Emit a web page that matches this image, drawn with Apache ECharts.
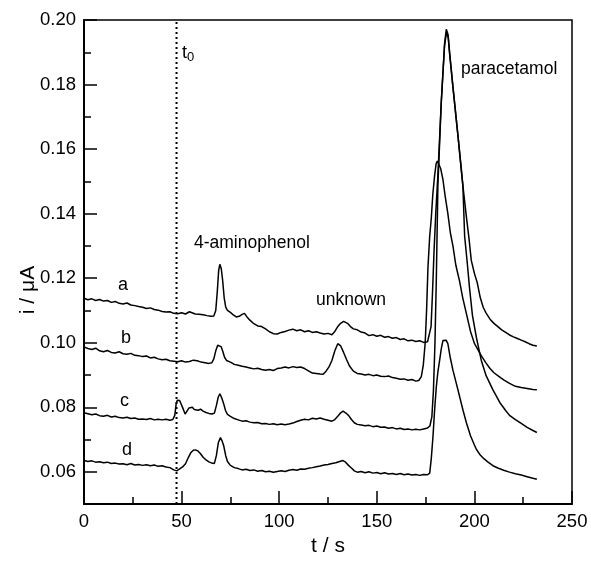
<!DOCTYPE html>
<html><head><meta charset="utf-8">
<script src="https://cdn.jsdelivr.net/npm/echarts@6/dist/echarts.min.js"></script>
<style>html,body{margin:0;padding:0;background:#fff}#c{width:591px;height:562px}</style>
</head><body><div id="c"></div>
<script>
// ---- data (time in s, current in µA) ----
const tA=[0,2,4,6,8,10,12,14,16,18,20,22,24,26,28,30,32,34,36,38,40,42,44,46,48,50,52,54,55,57,59,61,63,65,66.5,67.5,68.3,69,69.6,70.3,71,71.8,72.6,73.5,75,76.5,78,79.5,81,82.2,83.5,85,87,89,91,93,95,97,99,101,103,105,107,109,111,113,115,117,119,121,123,125,127,128.5,130,131.5,133,134,135,136.5,138,140,142,144,146,148,150,152,154,156,158,160,162,164,166,168,170,172,174,176,177,177.8,178.5,179.3,180.2,181.3,183,184.7,185.6,186.5,187.3,189,191.6,194.1,195.9,197.2,198.4,200,201.5,203,204.5,206,208,210,212,214,216,218,220,222,224,226,228,230,232];
const iA=[.1138,.1133,.1136,.1131,.1134,.1129,.1131,.1125,.1128,.1122,.1120,.1123,.1117,.1115,.1112,.1110,.1106,.1108,.1103,.1101,.1097,.1095,.1096,.1091,.1090,.1093,.1089,.1096,.1098,.1089,.1088,.1087,.1084,.1082,.1083,.1100,.1160,.1225,.1243,.1230,.1195,.1140,.1110,.1100,.1094,.1086,.1080,.1082,.1088,.1091,.1080,.1070,.1059,.1052,.1050,.1043,.1034,.1028,.1027,.1032,.1035,.1039,.1042,.1037,.1040,.1034,.1037,.1032,.1034,.1030,.1027,.1029,.1025,.1035,.1050,.1060,.1066,.1068,.1060,.1050,.1043,.1040,.1033,.1030,.1022,.1025,.1020,.1023,.1017,.1019,.1014,.1016,.1010,.1012,.1006,.1008,.1004,.1006,.1001,.1003,.1008,.1050,.1150,.1280,.1400,.1520,.1742,.1925,.1971,.1955,.1900,.1793,.1640,.1487,.1390,.1325,.1255,.1215,.1185,.1140,.1110,.1092,.1073,.1060,.1050,.1040,.1032,.1024,.1018,.1013,.1008,.1003,.0997,.0992,.0990];

const tB=[0,2,4,6,8,10,12,14,16,18,20,22,24,26,28,30,32,34,36,38,40,42,44,46,48,50,52,54,56,58,60,62,64,65.5,66.5,67.5,68.5,69.3,70.2,71,72,73,75,77,79,81,83,85,87,89,91,93,95,97,99,101,103,105,107,109,111,113,115,117,119,121,122.5,124,125.5,127,128.5,130,131.5,133,134.5,136,138,140,142,144,146,148,150,152,154,156,158,160,162,164,166,168,170,171.5,172.8,173.8,174.8,175.5,176.2,177.1,177.9,178.7,179.6,180.4,181,181.8,182.7,183.9,185,186.4,187.7,189,190.5,192.4,194,195.9,198,200,201,203.5,206,208,210,212.5,215,218,221,224,227,230,232];
const iB=[.0987,.0982,.0979,.0983,.0975,.0972,.0976,.0970,.0968,.0972,.0966,.0964,.0967,.0961,.0960,.0957,.0959,.0953,.0955,.0950,.0947,.0949,.0944,.0943,.0941,.0944,.0940,.0942,.0946,.0944,.0940,.0938,.0936,.0938,.0950,.0975,.0992,.0997,.0988,.0975,.0955,.0945,.0940,.0933,.0930,.0927,.0925,.0922,.0919,.0921,.0917,.0915,.0917,.0914,.0920,.0922,.0925,.0922,.0926,.0923,.0925,.0920,.0913,.0906,.0905,.0903,.0902,.0912,.0925,.0945,.0975,.0997,.0990,.0970,.0948,.0928,.0912,.0905,.0903,.0900,.0902,.0898,.0900,.0896,.0895,.0897,.0892,.0890,.0887,.0888,.0884,.0886,.0881,.0883,.0895,.0930,.1000,.1100,.1232,.1330,.1385,.1460,.1517,.1555,.1563,.1553,.1540,.1505,.1455,.1400,.1340,.1300,.1240,.1191,.1140,.1090,.1035,.0998,.0987,.0960,.0937,.0920,.0907,.0896,.0885,.0874,.0865,.0861,.0858,.0855,.0854];

const tC=[0,2,4,6,8,10,12,14,16,18,20,22,24,26,28,30,32,34,36,38,40,42,44,45.5,46.5,47.2,47.8,49,49.8,50.8,51.8,52.8,53.8,54.6,55.5,56.5,57.5,58.5,59.7,61,62.5,64,65.5,66.8,67.8,68.8,69.6,70.5,71.5,72.5,73.5,75,77,79,81,83,85,87,89,91,93,95,97,99,101,103,105,107,109,111,113,115,117,119,121,123,125,127,128.5,130,131.5,132.7,134,135.5,137,138.5,140,142,144,146,148,150,152,154,156,158,160,162,164,166,168,170,172,174,176,177.2,178.2,179,179.8,180.5,181.3,183,184.7,185.7,186.6,187.3,189,191.6,194.1,195,196.3,197.5,199,201,203.5,206,209.5,213,216,218,221,224,227,230,232];
const iC=[.0783,.0780,.0777,.0779,.0774,.0772,.0775,.0770,.0772,.0768,.0767,.0769,.0765,.0767,.0763,.0764,.0762,.0765,.0761,.0763,.0761,.0763,.0760,.0762,.0775,.0810,.0822,.0821,.0815,.0795,.0779,.0785,.0798,.0803,.0800,.0793,.0796,.0791,.0794,.0788,.0784,.0781,.0779,.0782,.0805,.0832,.0842,.0830,.0812,.0790,.0778,.0772,.0765,.0761,.0757,.0758,.0754,.0752,.0753,.0749,.0750,.0747,.0749,.0746,.0748,.0746,.0748,.0751,.0756,.0760,.0763,.0761,.0766,.0764,.0767,.0763,.0760,.0757,.0762,.0772,.0783,.0788,.0783,.0775,.0762,.0752,.0747,.0745,.0743,.0744,.0740,.0742,.0738,.0739,.0735,.0737,.0733,.0735,.0731,.0733,.0730,.0732,.0730,.0733,.0736,.0742,.0770,.0850,.1000,.1200,.1487,.1742,.1920,.1962,.1945,.1895,.1793,.1640,.1487,.1330,.1250,.1170,.1085,.1017,.0946,.0898,.0854,.0815,.0790,.0775,.0762,.0750,.0738,.0728,.0722];

const tD=[0,2,4,6,8,10,12,14,16,18,20,22,24,26,28,30,32,34,36,38,40,42,44,46,47.5,49,50.5,52,53.5,54.8,56,57.2,58.5,59.7,61,62.5,64,65.5,66.8,67.8,68.8,69.9,70.8,71.6,72.6,73.5,75,77,79,81,83,85,87,89,91,93,95,97,99,101,103,105,107,109,111,113,115,117,119,121,123,125,127,129,131,132.7,134,135.5,137,138.5,140,142,144,146,148,150,152,154,156,158,160,162,164,166,168,170,172,174,176,177.1,177.9,178.8,179.6,180.5,181.3,182.2,183,183.9,184.7,185.5,186.4,187.6,189,190.7,192.4,194.2,195.9,198,200,201,203,205,207,209.5,212,215,218,221,224,227,230,231,232];
const iD=[.0635,.0632,.0634,.0630,.0631,.0628,.0630,.0626,.0627,.0624,.0625,.0622,.0626,.0621,.0623,.0620,.0622,.0619,.0621,.0617,.0619,.0615,.0613,.0606,.0603,.0609,.0615,.0625,.0645,.0660,.0667,.0668,.0664,.0656,.0645,.0637,.0631,.0627,.0626,.0650,.0690,.0706,.0695,.0680,.0650,.0632,.0620,.0613,.0610,.0606,.0608,.0604,.0606,.0602,.0604,.0600,.0602,.0599,.0601,.0603,.0601,.0605,.0607,.0605,.0609,.0608,.0611,.0613,.0616,.0618,.0621,.0623,.0626,.0628,.0632,.0635,.0630,.0620,.0612,.0603,.0599,.0601,.0597,.0600,.0596,.0598,.0594,.0597,.0593,.0595,.0592,.0595,.0591,.0593,.0590,.0592,.0589,.0592,.0591,.0596,.0640,.0711,.0790,.0864,.0910,.0946,.0980,.1007,.1012,.1008,.0997,.0955,.0915,.0875,.0834,.0790,.0752,.0712,.0683,.0670,.0652,.0640,.0630,.0619,.0612,.0605,.0599,.0594,.0590,.0585,.0580,.0583,.0577];

const t0 = 47.4;
const xMin = 0, xMax = 250, xStep = 50;
const yMin = 0.05, yMax = 0.20;
const yMajor = [0.06,0.08,0.10,0.12,0.14,0.16,0.18,0.20];
const traceNames = ['a','b','c','d'];

const zip = (t, v) => t.map((x, k) => [x, v[k]]);
const FONT = '"Liberation Sans", Arial, sans-serif';
const lineSeries = (name, t, v) => ({
  name, type: 'line', data: zip(t, v), showSymbol: false, symbol: 'none',
  lineStyle: { color: '#000', width: 1.5 }, animation: false, z: 3
});

const chart = echarts.init(document.getElementById('c'), null, { renderer: 'canvas' });
chart.setOption({
  animation: false,
  backgroundColor: '#fff',
  textStyle: { fontFamily: FONT, color: '#000' },
  grid: { left: 84, right: 19, top: 20, bottom: 53, show: true, borderColor: '#000', borderWidth: 1.5, backgroundColor: 'transparent' },
  xAxis: {
    type: 'value', min: xMin, max: xMax, interval: xStep,
    name: 't / s', nameLocation: 'middle', nameGap: 29,
    nameTextStyle: { fontSize: 21, fontFamily: FONT, color: '#000' },
    axisLine: { lineStyle: { color: '#000', width: 2 } },
    axisTick: { inside: true, length: 13, lineStyle: { color: '#000', width: 1.5 } },
    minorTick: { show: true, splitNumber: 2, length: 7, lineStyle: { color: '#000', width: 1.5 } },
    axisLabel: { fontSize: 18.5, fontFamily: FONT, color: '#000', margin: 8 },
    splitLine: { show: false }
  },
  yAxis: [{
    type: 'value', min: yMin, max: yMax, interval: 0.01, position: 'left',
    axisLine: { lineStyle: { color: '#000', width: 2 } },
    axisTick: { inside: true, length: 7, lineStyle: { color: '#000', width: 1.5 } },
    axisLabel: { show: false },
    splitLine: { show: false }
  }, {
    type: 'value', min: yMin, max: yMax, position: 'left', offset: 0,
    axisLine: { show: false },
    axisTick: { inside: true, length: 13, customValues: yMajor, lineStyle: { color: '#000', width: 1.5 } },
    axisLabel: { customValues: yMajor, fontSize: 18.5, fontFamily: FONT, color: '#000', margin: 8, formatter: v => v.toFixed(2) },
    splitLine: { show: false }
  }],
  series: [
    lineSeries(traceNames[0], tA, iA),
    lineSeries(traceNames[1], tB, iB),
    lineSeries(traceNames[2], tC, iC),
    lineSeries(traceNames[3], tD, iD),
    { type: 'line', data: [[t0, yMin], [t0, yMax]], showSymbol: false, symbol: 'none',
      lineStyle: { color: '#000', width: 2, type: [2, 3] }, z: 2 }
  ],
  graphic: [
    { type: 'text', x: 28, y: 290, rotation: Math.PI / 2, style: { text: 'i / μA', font: '21px ' + FONT, fill: '#000', align: 'center', verticalAlign: 'middle' } },
    { type: 'text', x: 182, y: 44, style: { text: 't', font: '18px ' + FONT, fill: '#000' } },
    { type: 'text', x: 187, y: 51, style: { text: '0', font: '13px ' + FONT, fill: '#000' } },
    { type: 'text', x: 118, y: 276, style: { text: 'a', font: '18px ' + FONT, fill: '#000' } },
    { type: 'text', x: 121, y: 329, style: { text: 'b', font: '18px ' + FONT, fill: '#000' } },
    { type: 'text', x: 120, y: 392, style: { text: 'c', font: '18px ' + FONT, fill: '#000' } },
    { type: 'text', x: 122, y: 441, style: { text: 'd', font: '18px ' + FONT, fill: '#000' } },
    { type: 'text', x: 194, y: 234, style: { text: '4-aminophenol', font: '17.5px ' + FONT, fill: '#000' } },
    { type: 'text', x: 316, y: 291, style: { text: 'unknown', font: '17.5px ' + FONT, fill: '#000' } },
    { type: 'text', x: 461, y: 60, style: { text: 'paracetamol', font: '17.5px ' + FONT, fill: '#000' } }
  ]
});
</script></body></html>
